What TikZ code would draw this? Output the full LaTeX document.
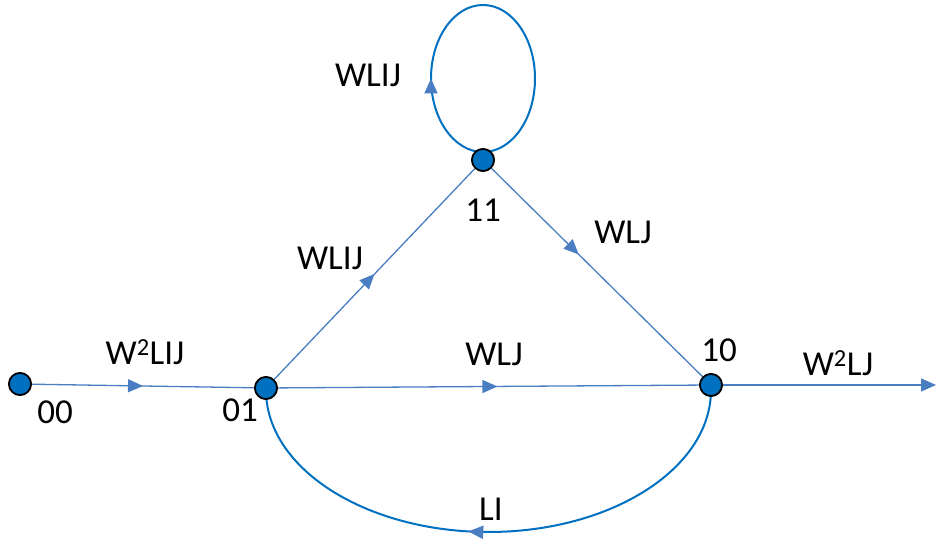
\documentclass[tikz,border=0pt]{standalone}
\usepackage{fontspec}
\setmainfont{Carlito}
\usetikzlibrary{arrows.meta,decorations.markings}
\definecolor{edge}{HTML}{4A7EC2}
\definecolor{deep}{HTML}{0070C0}

\begin{document}
\begin{tikzpicture}[x=1pt,y=1pt,every node/.style={font=\fontsize{35}{41}\selectfont,text=black},state/.style={circle,draw=black,line width=1.7pt,fill=deep,minimum size=22pt,inner sep=0pt},flow/.style={edge,line width=1.3pt,postaction={decorate},decoration={markings,mark=at position #1 with {\arrow{Triangle[length=15pt,width=13pt]}}}},bend/.style={deep,line width=2pt,postaction={decorate},decoration={markings,mark=at position #1 with {\arrow[edge]{Triangle[length=15pt,width=13pt]}}}}]
\path[use as bounding box] (0,0) rectangle (936,540);

% curves behind the states
\draw[bend=.25] (483,388) arc[start angle=-90,end angle=-450,x radius=52,y radius=73.5];
\draw[bend=.535] (711,150) arc[start angle=0,end angle=-180,x radius=222.5,y radius=142];

\node[state] (s00) at (20,156) {};
\node[state] (s01) at (266,152) {};
\node[state] (s11) at (483,380) {};
\node[state] (s10) at (711,155) {};
\coordinate (out) at (936,155);

\draw[flow=.5] (s00.center)--(s01.center);
\draw[flow=.5] (s01.center)--(s11.center);
\draw[flow=.42] (s11.center)--(s10.center);
\draw[flow=.52] (s01.center)--(s10.center);
\draw[edge,line width=1.3pt,-{Triangle[length=15pt,width=13pt]}] (s10.center)--(out);

% redraw the states on top
\foreach \s in {s00,s01,s11,s10} \node[state] at (\s) {};

\node (l00) at (55,128) {00};
\node (l01) at (240,130) {01};
\node (l11) at (483,330) {11};
\node (l10) at (719,190) {10};
\node (w0001) at (145,188) {W\textsuperscript{2}LIJ};
\node (wloop) at (368,465) {WLIJ};
\node (w0111) at (330,282) {WLIJ};
\node (w1110) at (623,308) {WLJ};
\node (w0110) at (494,186) {WLJ};
\node (wout) at (838,177) {W\textsuperscript{2}LJ};
\node (wback) at (491,31) {LI};

\end{tikzpicture}
\end{document}
